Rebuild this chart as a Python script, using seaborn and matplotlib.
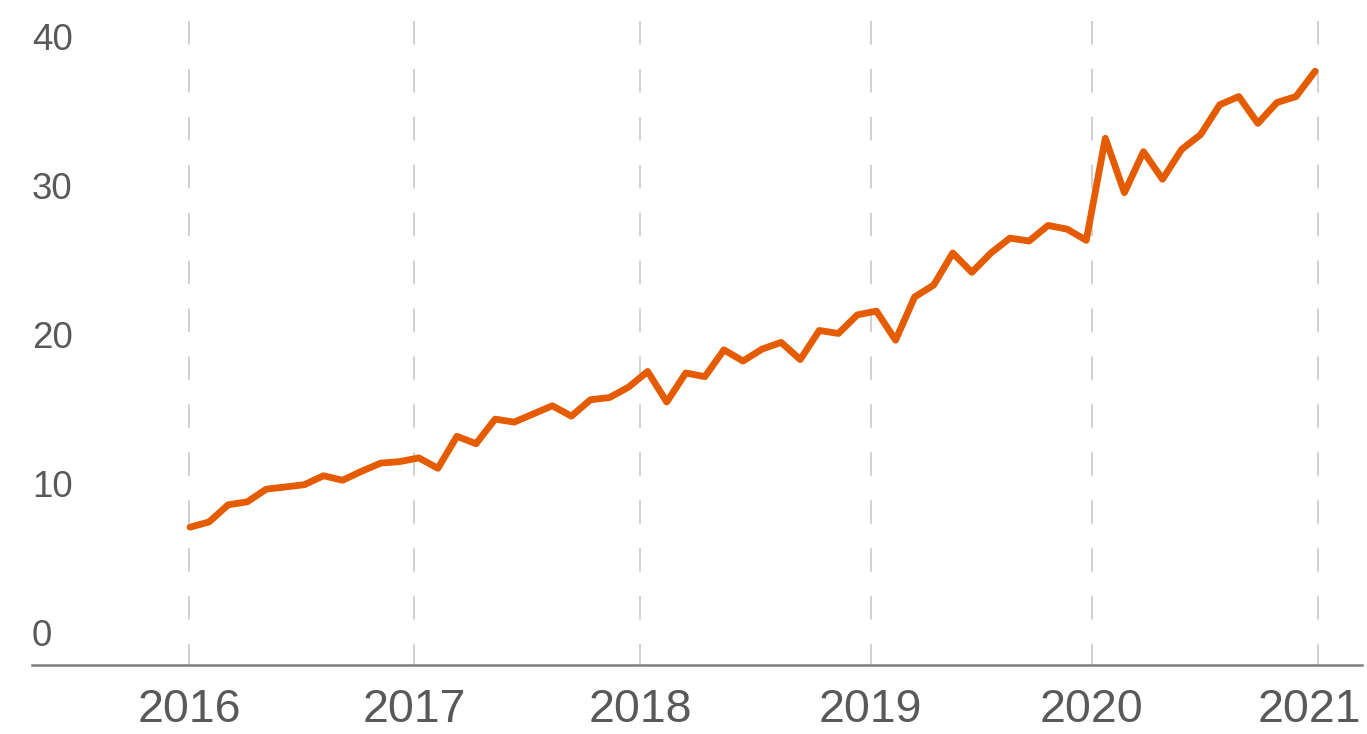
import numpy as np
import pandas as pd
import matplotlib
matplotlib.use("Agg")
import matplotlib.pyplot as plt
import matplotlib.transforms as mtransforms
import seaborn as sns

# monthly values, Jan 2016 - Dec 2020
months = pd.date_range("2016-01-01", periods=60, freq="MS")
values = [
    7.1, 7.45, 8.6, 8.8, 9.65, 9.8, 9.95, 10.55, 10.25, 10.85, 11.4, 11.5,
    11.75, 11.05, 13.2, 12.7, 14.35, 14.15, 14.7, 15.25, 14.55, 15.65, 15.8, 16.5,
    17.55, 15.5, 17.45, 17.2, 19.0, 18.25, 19.05, 19.5, 18.35, 20.3, 20.1, 21.35,
    21.6, 19.65, 22.55, 23.35, 25.5, 24.2, 25.5, 26.5, 26.3, 27.35, 27.1, 26.35,
    33.2, 29.55, 32.3, 30.45, 32.45, 33.45, 35.45, 36.0, 34.2, 35.6, 36.0, 37.7,
]
years = ["2016", "2017", "2018", "2019", "2020", "2021"]
y_ticks = [0, 10, 20, 30, 40]

# where the year lines sit, in month-index units
year_pos = [-0.05, 11.75, 23.6, 35.7, 47.3, 59.15]

orange = "#E55B00"
text_grey = "#595959"

sns.set_theme(style="white")
plt.rcParams["font.family"] = ["Liberation Sans Narrow", "Liberation Sans", "DejaVu Sans"]
plt.rcParams["lines.scale_dashes"] = False

df = pd.DataFrame({"month": months, "value": values})
df["pos"] = np.arange(len(df))

fig = plt.figure(figsize=(13.67, 7.34), dpi=100)
ax = fig.add_axes([32 / 1367, 69 / 734, 1330 / 1367, 644 / 734])

y_lo, y_hi = -2.15, 41.07
ax.set_xlim(-8.285, 61.46)
ax.set_ylim(y_lo, y_hi)

# dashed year lines, drawn top-down so the dash pattern starts at the top
ax.vlines(year_pos, y_hi, y_lo, colors="#C4C4C4", linewidth=1.1,
          linestyles=[(0, (17.0, 17.5))], zorder=1)

sns.lineplot(data=df, x="pos", y="value", color=orange, linewidth=4.9, ax=ax, zorder=3)
ax.lines[-1].set_solid_capstyle("round")
ax.lines[-1].set_solid_joinstyle("round")

for side in ["top", "right", "left"]:
    ax.spines[side].set_visible(False)
ax.spines["bottom"].set_color("#7F7F7F")
ax.spines["bottom"].set_linewidth(1.8)

ax.set_xticks(year_pos, years)
ax.tick_params(axis="x", length=0, pad=16.5, labelsize=33.5, labelcolor=text_grey)
ax.set_yticks(y_ticks, [str(v) for v in y_ticks])
ax.tick_params(axis="y", length=0, pad=0, labelsize=26.5, labelcolor=text_grey)
for lbl in ax.get_yticklabels():
    lbl.set_horizontalalignment("left")

# pull the last year label in a little so it stays inside the figure
last = ax.get_xticklabels()[-1]
last.set_transform(last.get_transform() +
                   mtransforms.ScaledTranslation(-9 / 100, 0, fig.dpi_scale_trans))

ax.set_xlabel("")
ax.set_ylabel("")
ax.grid(False)

fig.savefig("out.png", dpi=100)
